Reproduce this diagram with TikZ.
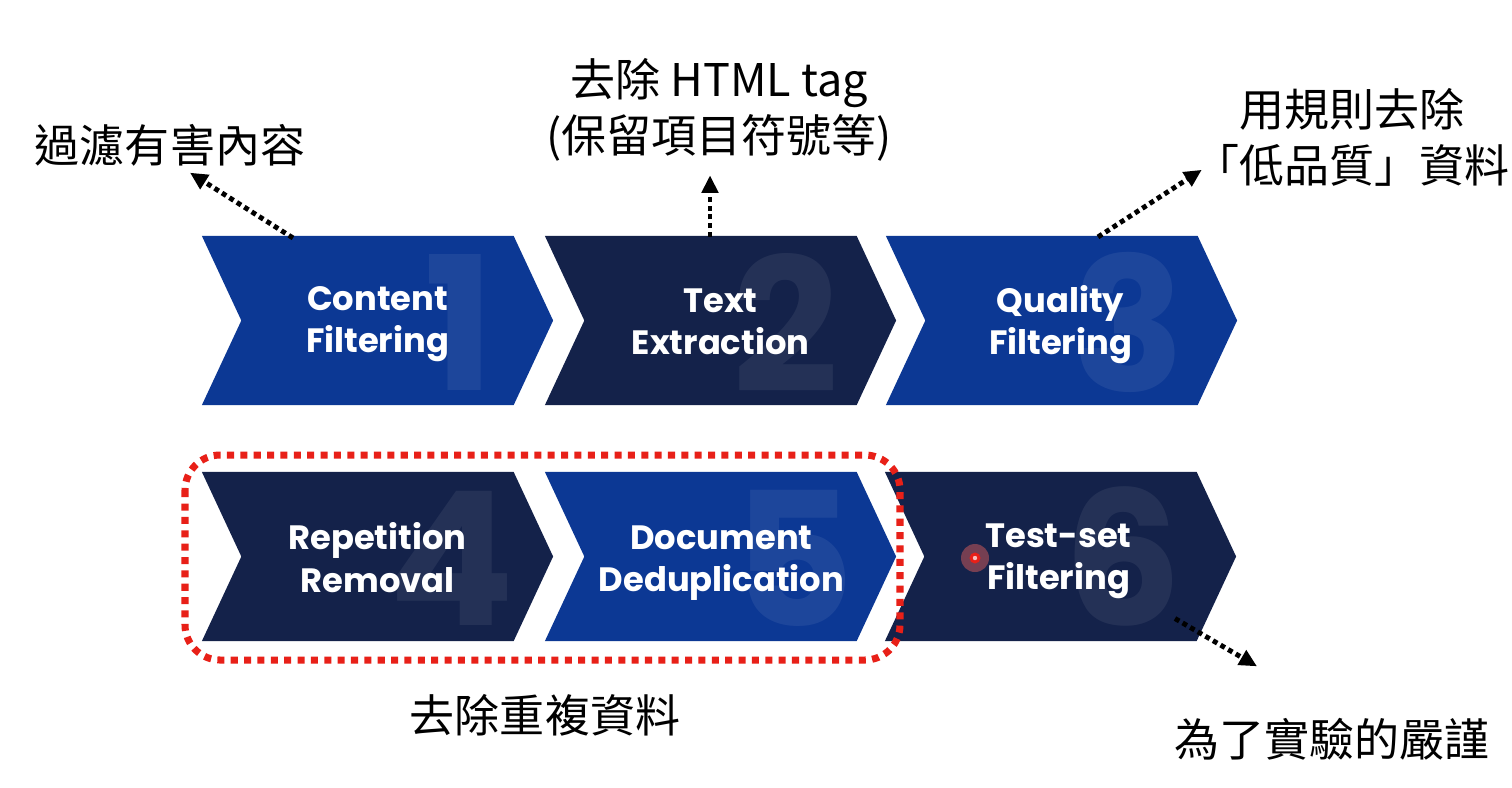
\documentclass[tikz,border=0pt]{standalone}
\usepackage{fontspec}
\setmainfont{Poppins}
\newfontfamily\cjk{Noto Sans CJK TC}
\usetikzlibrary{shapes.symbols,arrows.meta}
\definecolor{stepblue}{RGB}{12,56,148}
\definecolor{stepnavy}{RGB}{20,34,74}
\definecolor{laserred}{RGB}{232,32,24}

\begin{document}
\begin{tikzpicture}[x=0.01cm,y=-0.01cm]
\tikzstyle{chevron}=[signal, signal from=west, signal to=east, signal pointer angle=130, minimum width=3.51cm, minimum height=1.69cm, inner sep=0pt, outer sep=0pt]
\tikzstyle{steptext}=[text=white, font=\fontsize{9.6}{12}\selectfont\bfseries, align=center]
\tikzstyle{bignum}=[text=white, text opacity=0.07, font=\fontsize{53}{53}\selectfont\bfseries]
\tikzstyle{note}=[font=\cjk\fontsize{12.8}{16}\selectfont, align=center, inner sep=0pt]
\tikzstyle{hint}=[draw=black, line width=1.4pt, dash pattern=on 1.4pt off 1.1pt, -{Triangle[length=5pt,width=4.6pt]}]
\tikzstyle{dupframe}=[draw=laserred, line width=2pt, dash pattern=on 2pt off 1.8pt, rounded corners=10pt]

\fill[white] (0,0) rectangle (1512,787);
\useasboundingbox (0,0) rectangle (1512,787);

% the six steps
\node[chevron, fill=stepblue] (ch1) at (377.5,320.5) {};
\node[chevron, fill=stepnavy] (ch2) at (720.5,320.5) {};
\node[chevron, fill=stepblue] (ch3) at (1061.5,320.5) {};
\node[chevron, fill=stepnavy] (ch4) at (377.5,556.5) {};
\node[chevron, fill=stepblue] (ch5) at (720.5,556.5) {};
\node[chevron, fill=stepnavy] (ch6) at (1060.5,556.5) {};

\node[bignum] (num1) at ([shift={(82,2)}]ch1.center) {1};
\node[bignum] (num2) at ([shift={(65,2)}]ch2.center) {2};
\node[bignum] (num3) at ([shift={(67,2)}]ch3.center) {3};
\node[bignum] (num4) at ([shift={(74,2)}]ch4.center) {4};
\node[bignum] (num5) at ([shift={(74,2)}]ch5.center) {5};
\node[bignum] (num6) at ([shift={(62,0)}]ch6.center) {6};

\node[steptext] (txt1) at ([shift={(0,4)}]ch1.center) {Content\\Filtering};
\node[steptext] (txt2) at ([shift={(0,1)}]ch2.center) {Text\\Extraction};
\node[steptext] (txt3) at ([shift={(-1,4)}]ch3.center) {Quality\\Filtering};
\node[steptext] (txt4) at ([shift={(0,1)}]ch4.center) {Repetition\\Removal};
\node[steptext] (txt5) at ([shift={(1,7)}]ch5.center) {Document\\Deduplication};
\node[steptext] (txt6) at ([shift={(-2,5)}]ch6.center) {Test-set\\Filtering};

% notes
\node[note] (noteA) at (170,145) {過濾有害內容};
\node[note] (noteB) at (719,110) {去除 HTML tag\\(保留項目符號等)};
\node[note] (noteC) at (1352,137) {用規則去除\\「低品質」資料};
\node[note] (noteD) at (545,715) {去除重複資料};
\node[note] (noteE) at (1332,739) {為了實驗的嚴謹};

\draw[hint] ([shift={(-84.5,2)}]ch1.north) -- ([shift={(20,6)}]noteA.south);
\draw[hint] ([shift={(-10.5,1)}]ch2.north) -- ([shift={(-9,13)}]noteB.south);
\draw[hint] ([shift={(36.5,1)}]ch3.north) -- ([shift={(8,-17)}]noteC.south west);
\draw[hint] ([shift={(114.5,62)}]ch6.center) -- ([shift={(-75,-51)}]noteE.north);

% steps 4 and 5
\draw[dupframe] (185,455) rectangle (900,660);

% pointer
\fill[laserred!70, opacity=0.45] (975,558) circle (14);
\fill[laserred] (975,558) circle (5.5);
\fill[white!70!laserred] (975,558) circle (2.2);
\end{tikzpicture}
\end{document}
